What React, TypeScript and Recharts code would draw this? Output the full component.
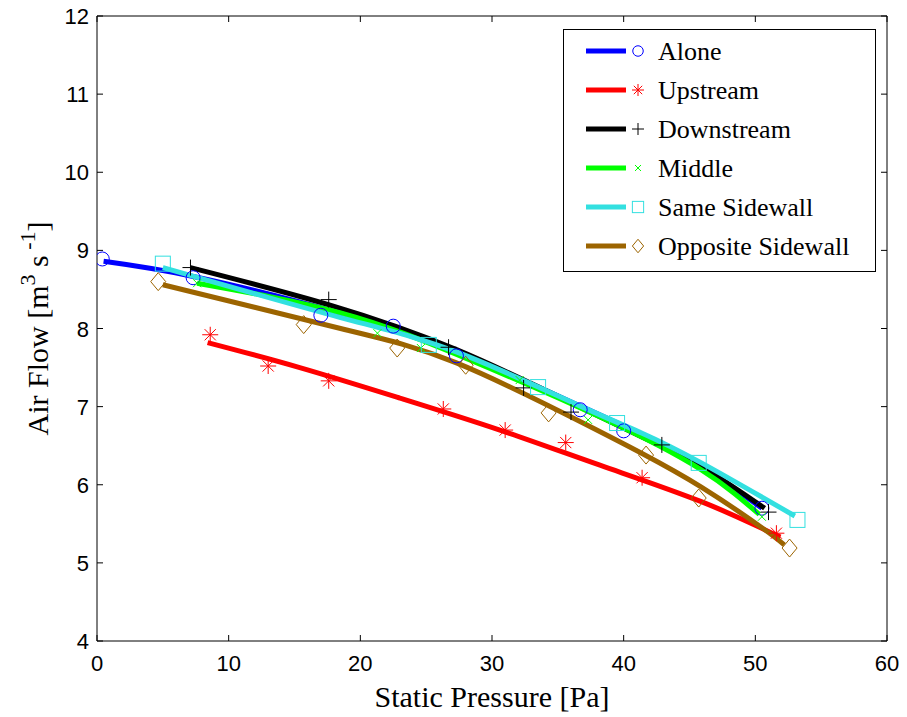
import React from "react";
import {
  ComposedChart, Line, Scatter, XAxis, YAxis, Legend, Label
} from "recharts";

// fitted curves
const aloneFit = [
  { x: 0.5, y: 8.86 }, { x: 7.5, y: 8.66 }, { x: 18, y: 8.22 }, { x: 27.3, y: 7.7 },
  { x: 36.8, y: 7.0 }, { x: 41.4, y: 6.64 }, { x: 46, y: 6.22 }, { x: 50.5, y: 5.7 },
];
const upstreamFit = [
  { x: 8.4, y: 7.82 }, { x: 15.4, y: 7.5 }, { x: 23.0, y: 7.11 }, { x: 30.6, y: 6.7 },
  { x: 38.2, y: 6.25 }, { x: 45.8, y: 5.79 }, { x: 51.9, y: 5.33 },
];
const downstreamFit = [
  { x: 7.1, y: 8.78 }, { x: 17.7, y: 8.3 }, { x: 27.3, y: 7.73 }, { x: 36, y: 7.05 },
  { x: 41.4, y: 6.61 }, { x: 46, y: 6.22 }, { x: 50.7, y: 5.7 },
];
const middleFit = [
  { x: 7.6, y: 8.58 }, { x: 18.5, y: 8.2 }, { x: 28, y: 7.62 }, { x: 38.3, y: 6.86 },
  { x: 45.9, y: 6.19 }, { x: 50.3, y: 5.62 },
];
const sameFit = [
  { x: 5, y: 8.78 }, { x: 18.5, y: 8.14 }, { x: 27.3, y: 7.7 }, { x: 36.8, y: 7.0 },
  { x: 41.4, y: 6.66 }, { x: 45.9, y: 6.28 }, { x: 53, y: 5.6 },
];
const oppositeFit = [
  { x: 5, y: 8.56 }, { x: 18.5, y: 8.0 }, { x: 27.3, y: 7.56 }, { x: 36.8, y: 6.8 },
  { x: 41.4, y: 6.4 }, { x: 45.9, y: 5.97 }, { x: 50.5, y: 5.45 }, { x: 52.2, y: 5.23 },
];

// measured points
const alonePts = [
  { x: 0.4, y: 8.89 }, { x: 7.3, y: 8.65 }, { x: 17.0, y: 8.17 }, { x: 22.5, y: 8.03 },
  { x: 27.3, y: 7.65 }, { x: 36.7, y: 6.96 }, { x: 40.0, y: 6.69 }, { x: 50.5, y: 5.7 },
];
const upstreamPts = [
  { x: 8.6, y: 7.92 }, { x: 13.0, y: 7.52 }, { x: 17.6, y: 7.33 }, { x: 26.3, y: 6.97 },
  { x: 31.0, y: 6.7 }, { x: 35.6, y: 6.54 }, { x: 41.4, y: 6.09 }, { x: 51.6, y: 5.38 },
];
const downstreamPts = [
  { x: 7.1, y: 8.78 }, { x: 17.6, y: 8.37 }, { x: 26.7, y: 7.76 }, { x: 32.4, y: 7.24 },
  { x: 36.0, y: 6.93 }, { x: 42.9, y: 6.51 }, { x: 51.0, y: 5.65 },
];
const middlePts = [
  { x: 7.6, y: 8.58 }, { x: 21.3, y: 7.94 }, { x: 24.6, y: 7.75 }, { x: 32.1, y: 7.34 },
  { x: 37.3, y: 6.83 }, { x: 50.5, y: 5.59 },
];
const samePts = [
  { x: 5.0, y: 8.83 }, { x: 25.2, y: 7.79 }, { x: 33.5, y: 7.25 }, { x: 39.5, y: 6.79 },
  { x: 45.7, y: 6.28 }, { x: 53.2, y: 5.55 },
];
const oppositePts = [
  { x: 4.65, y: 8.6 }, { x: 15.7, y: 8.05 }, { x: 22.8, y: 7.75 }, { x: 28.0, y: 7.53 },
  { x: 34.3, y: 6.92 }, { x: 41.7, y: 6.38 }, { x: 45.7, y: 5.83 }, { x: 52.6, y: 5.19 },
];

const xTicks = [0, 10, 20, 30, 40, 50, 60];
const yTicks = [4, 5, 6, 7, 8, 9, 10, 11, 12];

const series = [
  { name: "Alone", color: "#0000ff", marker: "circle", fit: aloneFit, pts: alonePts },
  { name: "Upstream", color: "#ff0000", marker: "star", fit: upstreamFit, pts: upstreamPts },
  { name: "Downstream", color: "#000000", marker: "plus", fit: downstreamFit, pts: downstreamPts },
  { name: "Middle", color: "#00ff00", marker: "cross", fit: middleFit, pts: middlePts },
  { name: "Same Sidewall", color: "#33e0e0", marker: "square", fit: sameFit, pts: samePts },
  { name: "Opposite Sidewall", color: "#9c6400", marker: "diamond", fit: oppositeFit, pts: oppositePts },
];

const W = 907;
const H = 717;
const LEFT = 97;
const RIGHT = 887;
const TOP = 16;
const BOTTOM = 641;
const TICK = 6;

function Marker({ kind, cx, cy, color, s = 1 }: any) {
  if (cx == null || cy == null) return null;
  const p = { fill: "none", stroke: color, strokeWidth: 1 };
  if (kind === "circle") return <circle cx={cx} cy={cy} r={7 * s} {...p} />;
  if (kind === "square") {
    const h = 7.5 * s;
    return <rect x={cx - h} y={cy - h} width={2 * h} height={2 * h} {...p} />;
  }
  if (kind === "diamond") {
    const w = 7.5 * s, h = 9 * s;
    return <path d={`M${cx} ${cy - h}L${cx + w} ${cy}L${cx} ${cy + h}L${cx - w} ${cy}Z`} {...p} />;
  }
  if (kind === "plus") {
    const h = 8 * s;
    return <path d={`M${cx - h} ${cy}H${cx + h}M${cx} ${cy - h}V${cy + h}`} {...p} />;
  }
  if (kind === "cross") {
    const h = 4 * s;
    return <path d={`M${cx - h} ${cy - h}L${cx + h} ${cy + h}M${cx - h} ${cy + h}L${cx + h} ${cy - h}`} {...p} />;
  }
  // star
  const h = 8 * s, d = 5.6 * s;
  return (
    <path
      d={`M${cx - h} ${cy}H${cx + h}M${cx} ${cy - h}V${cy + h}M${cx - d} ${cy - d}L${cx + d} ${cy + d}M${cx - d} ${cy + d}L${cx + d} ${cy - d}`}
      {...p}
    />
  );
}

const tickFont = { fontFamily: "Liberation Sans, Arial", fontSize: 22, fill: "#000" };

function BottomTick({ x, payload }: any) {
  return (
    <g>
      <line x1={x} x2={x} y1={BOTTOM} y2={BOTTOM - TICK} stroke="#000" />
      <text x={x} y={BOTTOM + 30} textAnchor="middle" {...tickFont}>{payload.value}</text>
    </g>
  );
}
function TopTick({ x }: any) {
  return <line x1={x} x2={x} y1={TOP} y2={TOP + TICK} stroke="#000" />;
}
function LeftTick({ y, payload }: any) {
  return (
    <g>
      <line x1={LEFT} x2={LEFT + TICK} y1={y} y2={y} stroke="#000" />
      <text x={LEFT - 8} y={y + 8} textAnchor="end" {...tickFont}>{payload.value}</text>
    </g>
  );
}
function RightTick({ y }: any) {
  return <line x1={RIGHT} x2={RIGHT - TICK} y1={y} y2={y} stroke="#000" />;
}

function LegendBox() {
  return (
    <div style={{ width: 311, height: 241, border: "1px solid #000", background: "#fff" }}>
      <svg width={311} height={241}>
        {series.map((s, i) => {
          const cy = 21 + i * 39;
          return (
            <g key={s.name}>
              <line x1={22} x2={62} y1={cy} y2={cy} stroke={s.color} strokeWidth={5} />
              <Marker kind={s.marker} cx={74} cy={cy} color={s.color} s={0.75} />
              <text x={94} y={cy + 9} fontSize={26} fontFamily="Liberation Serif, Times New Roman">{s.name}</text>
            </g>
          );
        })}
      </svg>
    </div>
  );
}

export default function App() {
  return (
    <div style={{ position: "absolute", left: 0, top: 0, background: "#fff" }}>
      <ComposedChart width={W} height={H} margin={{ top: TOP - 1, right: W - RIGHT - 1, bottom: 0, left: 0 }}>
        <XAxis
          xAxisId="b" type="number" dataKey="x" domain={[0, 60]} ticks={xTicks}
          height={H - BOTTOM} tickLine={false} tick={<BottomTick />} stroke="#000"
          interval={0} allowDataOverflow
        >
          <Label
            content={() => (
              <text x={(LEFT + RIGHT) / 2} y={707} textAnchor="middle" fontSize={30} fontFamily="Liberation Serif, Times New Roman">
                Static Pressure [Pa]
              </text>
            )}
          />
        </XAxis>
        <XAxis
          xAxisId="t" orientation="top" type="number" dataKey="x" domain={[0, 60]} ticks={xTicks}
          height={1} tickLine={false} tick={<TopTick />} stroke="#000" interval={0} allowDataOverflow
        />
        <YAxis
          yAxisId="l" type="number" dataKey="y" domain={[4, 12]} ticks={yTicks}
          width={LEFT} tickLine={false} tick={<LeftTick />} stroke="#000" interval={0} allowDataOverflow
        >
          <Label
            content={() => (
              <text
                transform={`translate(48, ${(TOP + BOTTOM) / 2}) rotate(-90)`}
                textAnchor="middle" fontSize={30} fontFamily="Liberation Serif, Times New Roman"
              >
                Air Flow [m<tspan dy={-13} fontSize={22}>3</tspan>
                <tspan dy={13}> s</tspan>
                <tspan dy={-13} fontSize={22}> -1</tspan>
                <tspan dy={13}>]</tspan>
              </text>
            )}
          />
        </YAxis>
        <YAxis
          yAxisId="r" orientation="right" type="number" dataKey="y" domain={[4, 12]} ticks={yTicks}
          width={1} tickLine={false} tick={<RightTick />} stroke="#000" interval={0} allowDataOverflow
        />
        {series.map((s) => (
          <Line
            key={s.name + "-fit"}
            xAxisId="b" yAxisId="l"
            data={s.fit} dataKey="y" type="natural"
            stroke={s.color} strokeWidth={5} dot={false} activeDot={false}
            isAnimationActive={false} legendType="none"
          />
        ))}
        {series.map((s) => (
          <Scatter
            key={s.name + "-pts"}
            xAxisId="b" yAxisId="l"
            data={s.pts} dataKey="y"
            shape={(p: any) => <Marker kind={s.marker} cx={p.cx} cy={p.cy} color={s.color} />}
            isAnimationActive={false} legendType="none"
          />
        ))}
        <Legend
          layout="vertical" align="center" verticalAlign="middle"
          wrapperStyle={{ position: "absolute", left: 563, top: 29, width: 313 }}
          content={() => <LegendBox />}
        />
      </ComposedChart>
    </div>
  );
}
